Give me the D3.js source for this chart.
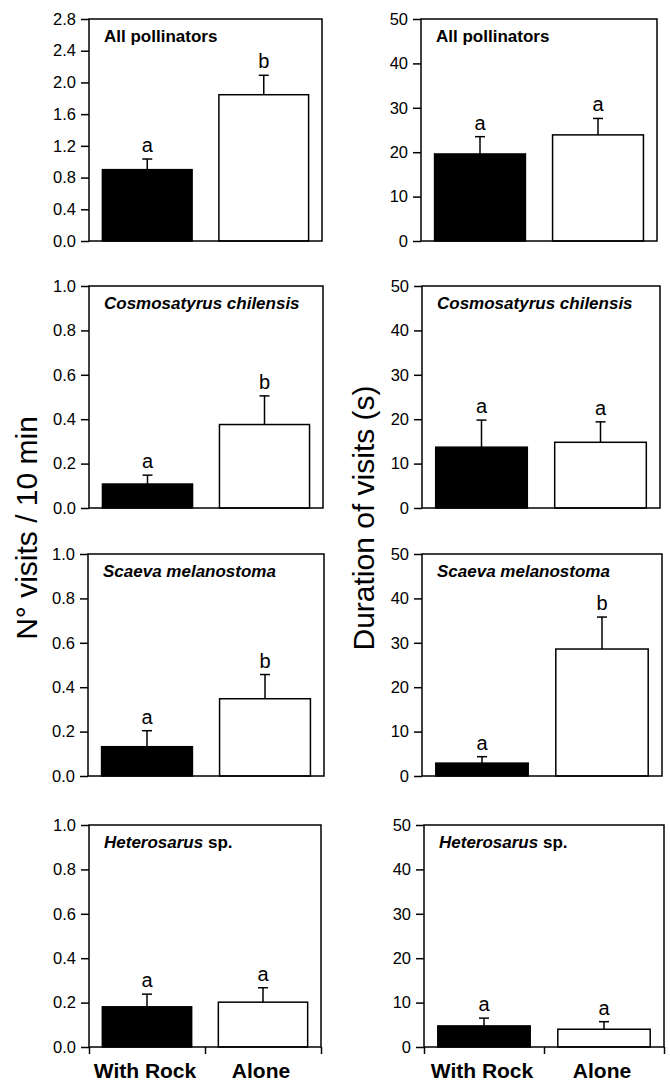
<!DOCTYPE html>
<html>
<head>
<meta charset="utf-8">
<script src="https://cdn.jsdelivr.net/npm/d3@7"></script>
<style>
  html, body { margin: 0; padding: 0; background: #fff; }
  svg { display: block; font-family: "Liberation Sans", Arial, sans-serif; }
</style>
</head>
<body>
<svg id="chart" width="670" height="1083"></svg>
<script>
// ---------------- data ----------------
const categories = ["With Rock", "Alone"];
const panelTitles = [
  [{t: "All pollinators", i: false}],
  [{t: "Cosmosatyrus chilensis", i: true}],
  [{t: "Scaeva melanostoma", i: true}],
  [{t: "Heterosarus", i: true}, {t: " sp.", i: false}]
];
// Left column: N° visits / 10 min
const visitsMeans = [[0.90, 1.845], [0.108, 0.376], [0.132, 0.348], [0.181, 0.202]];
const visitsSE    = [[0.134, 0.245], [0.040, 0.129], [0.072, 0.109], [0.057, 0.065]];
const visitsLetters = [["a", "b"], ["a", "b"], ["a", "b"], ["a", "a"]];
const visitsTicks = [
  [0.0, 0.4, 0.8, 1.2, 1.6, 2.0, 2.4, 2.8],
  [0.0, 0.2, 0.4, 0.6, 0.8, 1.0],
  [0.0, 0.2, 0.4, 0.6, 0.8, 1.0],
  [0.0, 0.2, 0.4, 0.6, 0.8, 1.0]
];
// Right column: Duration of visits (s)
const durationMeans = [[19.6, 23.9], [13.7, 14.8], [2.9, 28.6], [4.75, 4.0]];
const durationSE    = [[3.9, 3.7], [6.1, 4.6], [1.45, 7.2], [1.75, 1.7]];
const durationLetters = [["a", "a"], ["a", "a"], ["a", "b"], ["a", "a"]];
const durationTicks = [0, 10, 20, 30, 40, 50];

const yTitleLeft = "N° visits / 10 min";
const yTitleRight = "Duration of visits (s)";

// ---------------- layout ----------------
const rowTops = [19, 286, 554, 825];
const rowH = 222;
const leftX = [[89, 322], [89, 323], [88, 324], [89, 321]];
const rightX = [[421, 657], [422, 660], [422, 662], [424, 664]];

const svg = d3.select("#chart");

function drawPanel(x0, x1, top, means, ses, letters, ticks, fmt, titleParts, isBottom) {
  const g = svg.append("g");
  const bottom = top + rowH;
  const y = d3.scaleLinear().domain([ticks[0], ticks[ticks.length - 1]]).range([bottom, top]);
  const x = d3.scaleBand().domain(categories).range([x0, x1]).paddingInner(0.23).paddingOuter(0.115);

  // y axis
  const ax = g.append("g")
    .attr("transform", `translate(${x0},0)`)
    .call(d3.axisLeft(y).tickValues(ticks).tickFormat(d3.format(fmt)).tickSize(8).tickPadding(5));
  ax.select(".domain").remove();
  ax.selectAll(".tick line").attr("stroke", "#000").attr("stroke-width", 1.5);
  ax.selectAll(".tick text").attr("font-size", 16.5).attr("fill", "#000")
    .attr("font-family", "Liberation Sans, Arial, sans-serif");

  // bars
  const data = categories.map((c, i) => ({c, m: means[i], se: ses[i], l: letters[i], i}));
  g.selectAll("rect.bar").data(data).enter().append("rect")
    .attr("class", "bar")
    .attr("x", d => x(d.c))
    .attr("width", x.bandwidth())
    .attr("y", d => y(d.m))
    .attr("height", d => y(0) - y(d.m))
    .attr("fill", d => d.i === 0 ? "#000" : "#fff")
    .attr("stroke", "#000")
    .attr("stroke-width", 1.5);

  // error bars (upper only)
  const cx = d => x(d.c) + x.bandwidth() / 2;
  g.selectAll("line.err").data(data).enter().append("line")
    .attr("x1", cx).attr("x2", cx)
    .attr("y1", d => y(d.m)).attr("y2", d => y(d.m + d.se))
    .attr("stroke", "#000").attr("stroke-width", 1.5);
  g.selectAll("line.cap").data(data).enter().append("line")
    .attr("x1", d => cx(d) - 5).attr("x2", d => cx(d) + 5)
    .attr("y1", d => y(d.m + d.se)).attr("y2", d => y(d.m + d.se))
    .attr("stroke", "#000").attr("stroke-width", 1.5);
  g.selectAll("text.letter").data(data).enter().append("text")
    .attr("x", cx)
    .attr("y", d => y(d.m + d.se) - 7)
    .attr("text-anchor", "middle")
    .attr("font-size", 20)
    .text(d => d.l);

  // frame
  g.append("rect")
    .attr("x", x0).attr("y", top)
    .attr("width", x1 - x0).attr("height", rowH)
    .attr("fill", "none").attr("stroke", "#000").attr("stroke-width", 1.5);

  // panel title
  const t = g.append("text")
    .attr("x", x0 + 15).attr("y", top + 23)
    .attr("font-size", 17).attr("font-weight", "bold");
  titleParts.forEach(p => {
    t.append("tspan").attr("font-style", p.i ? "italic" : "normal").text(p.t);
  });

  // bottom category axis
  if (isBottom) {
    const xl = d3.scaleLinear().domain([0, 2]).range([x0, x1]);
    const bx = g.append("g")
      .attr("transform", `translate(0,${bottom})`)
      .call(d3.axisBottom(xl).tickValues([0, 1, 2]).tickFormat("").tickSize(7));
    bx.select(".domain").remove();
    bx.selectAll(".tick line").attr("stroke", "#000").attr("stroke-width", 1.5);
    g.selectAll("text.cat").data(categories).enter().append("text")
      .attr("x", d => x(d) + x.bandwidth() / 2 - 2)
      .attr("y", bottom + 31)
      .attr("text-anchor", "middle")
      .attr("font-size", 21)
      .attr("font-weight", "bold")
      .text(d => d);
  }
}

for (let r = 0; r < 4; r++) {
  drawPanel(leftX[r][0], leftX[r][1], rowTops[r], visitsMeans[r], visitsSE[r], visitsLetters[r],
            visitsTicks[r], ".1f", panelTitles[r], r === 3);
  drawPanel(rightX[r][0], rightX[r][1], rowTops[r], durationMeans[r], durationSE[r], durationLetters[r],
            durationTicks, "d", panelTitles[r], r === 3);
}

// y-axis titles
svg.append("text")
  .attr("transform", "translate(37,528) rotate(-90)")
  .attr("text-anchor", "middle")
  .attr("font-size", 30)
  .text(yTitleLeft);
svg.append("text")
  .attr("transform", "translate(374,518) rotate(-90)")
  .attr("text-anchor", "middle")
  .attr("font-size", 30)
  .text(yTitleRight);
</script>
</body>
</html>
